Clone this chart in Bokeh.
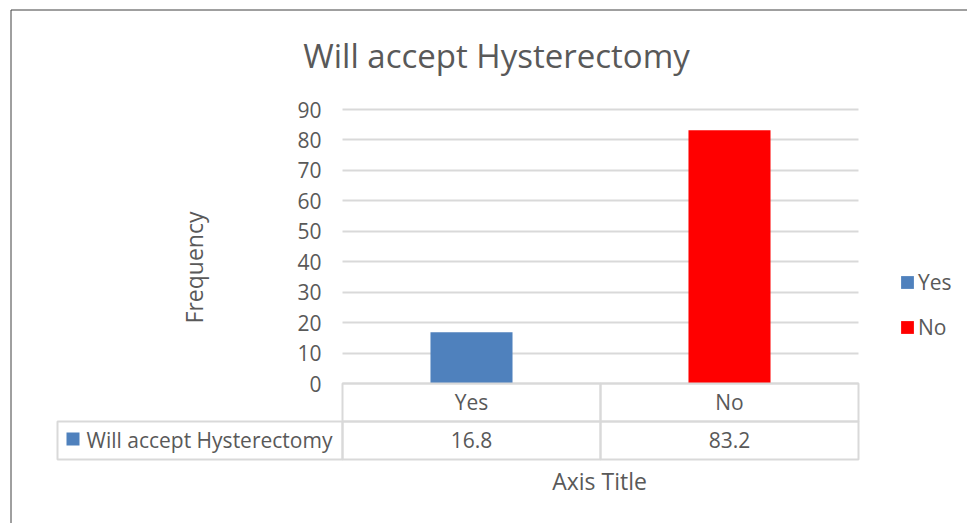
from bokeh.plotting import figure
from bokeh.models import ColumnDataSource, Range1d, FixedTicker, Grid
from bokeh.core.properties import value
from bokeh.embed import file_html
from bokeh.resources import INLINE

# ---- data ----
categories = ["Yes", "No"]
values = [16.8, 83.2]
bar_colors = ["#4F81BD", "#FF0000"]
series_name = "Will accept Hysterectomy"
y_ticks = [0, 10, 20, 30, 40, 50, 60, 70, 80, 90]
title_text = "Will accept Hysterectomy"
y_title = "Frequency"
x_title = "Axis Title"

W, H = 967, 523
FL, FR, FT, FB = 342, 858, 109, 383   # plot-area edges in pixels
Y0, Y1 = 0, 90
TXT = "#595959"
GRID = "#d9d9d9"
FONT = value("Open Sans")
LBL = "21px"
NC = len(categories)

def px_x(sx):
    return (sx - FL) / (FR - FL) * NC

def px_y(sy):
    return (FB - sy) / (FB - FT) * (Y1 - Y0) + Y0

xpos = [i + 0.5 for i in range(NC)]
source = ColumnDataSource(dict(cat=categories, x=xpos, val=values, color=bar_colors))

p = figure(width=W, height=H, x_range=Range1d(px_x(0), px_x(W)),
           y_range=Range1d(px_y(H), px_y(0)), output_backend="svg",
           toolbar_location=None, x_axis_location=None, y_axis_location=None,
           min_border=0, title=None)
p.outline_line_color = None
p.background_fill_color = "white"
p.border_fill_color = "white"
p.xgrid.visible = False
p.ygrid.visible = False

# horizontal gridlines limited to the plot area
p.add_layout(Grid(dimension=1, ticker=FixedTicker(ticks=y_ticks),
                  cross_bounds=(0, NC), grid_line_color=GRID, grid_line_width=2))

# chart border (left & top visible)
p.quad(left=[px_x(10.5)], right=[px_x(1100)], top=[px_y(9.5)], bottom=[px_y(700)],
       fill_color=None, line_color="#404040", line_width=1)

# bars
p.vbar(x="x", top="val", width=0.318, color="color", source=source,
       line_color=None, legend_field="cat")

# y tick labels
p.text(x=[px_x(321)] * len(y_ticks), y=y_ticks, text=[str(t) for t in y_ticks],
       text_font=FONT, text_font_size=LBL, text_color=TXT,
       text_align="right", text_baseline="middle")

# data table: header row (categories) and value row
p.quad(left=list(range(NC)), right=[i + 1 for i in range(NC)],
       top=[0] * NC, bottom=[px_y(421)] * NC,
       fill_color=None, line_color=GRID, line_width=2)
p.quad(left=[px_x(57)] + list(range(NC)), right=[0] + [i + 1 for i in range(NC)],
       top=[px_y(421)] * (NC + 1), bottom=[px_y(459)] * (NC + 1),
       fill_color=None, line_color=GRID, line_width=2)
p.text(x=xpos, y=[px_y(401)] * NC, text=categories, text_font=FONT,
       text_font_size=LBL, text_color=TXT, text_align="center",
       text_baseline="middle")
p.text(x=xpos, y=[px_y(439)] * NC, text=[f"{v}" for v in values], text_font=FONT,
       text_font_size=LBL, text_color=TXT, text_align="center",
       text_baseline="middle")
p.quad(left=[px_x(66)], right=[px_x(79)], top=[px_y(432)], bottom=[px_y(445)],
       fill_color=bar_colors[0], line_color=None)
p.text(x=[px_x(86)], y=[px_y(439)], text=[series_name], text_font=FONT,
       text_font_size=LBL, text_color=TXT, text_align="left",
       text_baseline="middle")

# titles
p.text(x=[px_x(496)], y=[px_y(55)], text=[title_text], text_font=FONT,
       text_font_size="33px", text_color=TXT, text_align="center",
       text_baseline="middle")
p.text(x=[px_x(193)], y=[px_y(267)], text=[y_title], text_font=FONT,
       text_font_size="23px", text_color=TXT, text_align="center",
       text_baseline="middle", angle=1.5707963)
p.text(x=[px_x(599)], y=[px_y(480)], text=[x_title], text_font=FONT,
       text_font_size="23px", text_color=TXT, text_align="center",
       text_baseline="middle")

# legend
lg = p.legend[0]
lg.location = (899, 182)
lg.orientation = "vertical"
lg.glyph_width = 16
lg.glyph_height = 16
lg.label_height = 20
lg.spacing = 17
lg.padding = 0
lg.margin = 0
lg.label_standoff = 3
lg.border_line_color = None
lg.background_fill_alpha = 0
lg.label_text_font = "Open Sans"
lg.label_text_font_size = LBL
lg.label_text_color = TXT

open("out.html", "w").write(file_html(p, INLINE))
